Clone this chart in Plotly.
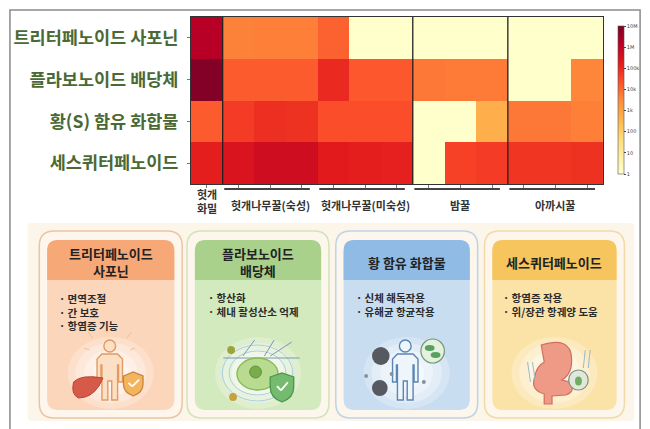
import plotly.graph_objects as go

# ---------------- data ----------------
compounds = ["트리터페노이드 사포닌", "플라보노이드 배당체", "황(S) 함유 화합물", "세스퀴터페노이드"]
samples = ["헛개 화밀",
           "숙성1", "숙성2", "숙성3",
           "미숙성1", "미숙성2", "미숙성3",
           "밤꿀1", "밤꿀2", "밤꿀3",
           "아까시1", "아까시2", "아까시3"]
# log10(peak area)
saponin = [6.2, 3.65, 3.7, 3.7, 4.1, 0, 0, 0, 0, 0, 0, 0, 0]
flavonoid = [6.95, 4.2, 4.2, 4.2, 5.0, 4.25, 4.25, 3.8, 3.75, 3.75, 0, 0, 3.6]
sulfur = [4.2, 4.7, 4.9, 4.85, 4.4, 4.4, 4.4, 0, 0, 2.7, 3.8, 3.8, 3.7]
sesqui = [5.2, 5.45, 5.7, 5.7, 5.25, 5.2, 5.15, 0, 4.6, 4.7, 4.8, 4.8, 4.85]
group_labels = ["헛개나무꿀(숙성)", "헛개나무꿀(미숙성)", "밤꿀", "아까시꿀"]
group_cols = [(1, 3), (4, 6), (7, 9), (10, 12)]
cb_vals = [0, 1, 2, 3, 4, 5, 6, 7]
cb_text = ["1", "10", "100", "1k", "10k", "100k", "1M", "10M"]

card_titles = [["트리터페노이드", "사포닌"], ["플라보노이드", "배당체"], ["황 함유 화합물"], ["세스퀴터페노이드"]]
card_bullets = [["면역조절", "간 보호", "항염증 기능"],
                ["항산화", "체내 활성산소 억제"],
                ["신체 해독작용", "유해균 항균작용"],
                ["항염증 작용", "위/장관 항궤양 도움"]]

# ---------------- helpers ----------------
W, H = 650, 429
FONT = "Noto Sans CJK KR"


def X(x):
    return x / W


def Y(y):
    return 1 - y / H


def P(x, y):
    return f"{X(x):.5f},{Y(y):.5f}"


def rrect(x0, y0, x1, y1, r, top_only=False):
    if top_only:
        return (f"M {P(x0, y1)} L {P(x0, y0 + r)} Q {P(x0, y0)} {P(x0 + r, y0)} "
                f"L {P(x1 - r, y0)} Q {P(x1, y0)} {P(x1, y0 + r)} L {P(x1, y1)} Z")
    return (f"M {P(x0 + r, y0)} L {P(x1 - r, y0)} Q {P(x1, y0)} {P(x1, y0 + r)} "
            f"L {P(x1, y1 - r)} Q {P(x1, y1)} {P(x1 - r, y1)} L {P(x0 + r, y1)} "
            f"Q {P(x0, y1)} {P(x0, y1 - r)} L {P(x0, y0 + r)} Q {P(x0, y0)} {P(x0 + r, y0)} Z")


def poly(pts):
    return "M " + " L ".join(P(a, b) for a, b in pts) + " Z"


shapes = []
annotations = []


def path(d, fill, line="rgba(0,0,0,0)", lw=0, layer="below", opacity=1):
    shapes.append(dict(type="path", path=d, xref="paper", yref="paper", fillcolor=fill,
                       line=dict(color=line, width=lw), layer=layer, opacity=opacity))


def circ(cx, cy, rx, ry, fill, line="rgba(0,0,0,0)", lw=0, layer="above", opacity=1):
    shapes.append(dict(type="circle", xref="paper", yref="paper", x0=X(cx - rx), x1=X(cx + rx),
                       y0=Y(cy + ry), y1=Y(cy - ry), fillcolor=fill,
                       line=dict(color=line, width=lw), layer=layer, opacity=opacity))


def seg(x0, y0, x1, y1, color, w=1.2):
    shapes.append(dict(type="line", xref="paper", yref="paper", x0=X(x0), x1=X(x1), y0=Y(y0), y1=Y(y1),
                       line=dict(color=color, width=w), layer="above"))


def person(cx, top, fill, line):
    circ(cx, top + 6, 6, 6, fill, line, 1.4)
    s = top + 14
    pts = [(cx - 8, s), (cx + 8, s), (cx + 13, s + 5), (cx + 13, s + 28), (cx + 9, s + 28), (cx + 9, s + 11),
           (cx + 8, s + 11), (cx + 8, s + 46), (cx + 2, s + 46), (cx + 2, s + 27), (cx - 2, s + 27),
           (cx - 2, s + 46), (cx - 8, s + 46), (cx - 8, s + 11), (cx - 9, s + 11), (cx - 9, s + 28),
           (cx - 13, s + 28), (cx - 13, s + 5)]
    path(poly(pts), fill, line, 1.4, layer="above")


def shield(x0, y0, w, h, fill, line):
    cx = x0 + w / 2
    d = (f"M {P(x0, y0 + 4)} L {P(cx, y0)} L {P(x0 + w, y0 + 4)} L {P(x0 + w, y0 + h * 0.5)} "
         f"Q {P(x0 + w, y0 + h * 0.85)} {P(cx, y0 + h)} Q {P(x0, y0 + h * 0.85)} {P(x0, y0 + h * 0.5)} Z")
    path(d, fill, line, 1.3, layer="above")
    seg(cx - 5, y0 + h * 0.45, cx - 1, y0 + h * 0.6, "white", 1.8)
    seg(cx - 1, y0 + h * 0.6, cx + 6, y0 + h * 0.32, "white", 1.8)


# ---------------- heatmap ----------------
z = [saponin, flavonoid, sulfur, sesqui]
ylorrd = ['#ffffcc', '#ffeda0', '#fed976', '#feb24c', '#fd8d3c', '#fc4e2a', '#e31a1c', '#bd0026', '#800026']
cscale = [[i / (len(ylorrd) - 1), c] for i, c in enumerate(ylorrd)]

fig = go.Figure()
fig.add_trace(go.Heatmap(
    z=z, x=list(range(len(samples))), y=list(range(len(compounds))),
    colorscale=cscale, zmin=0, zmax=7, hoverinfo="skip",
    colorbar=dict(x=X(613), xanchor="left", y=Y(8), yanchor="top", len=(176 - 8) / H,
                  lenmode="fraction", thickness=6, outlinewidth=0.6, outlinecolor="#555",
                  tickvals=cb_vals, ticktext=cb_text, ticks="outside", ticklen=2,
                  tickfont=dict(size=5, color="#444", family="DejaVu Sans"),
                  title=dict(text="Peak area (log10 scale)", side="right",
                             font=dict(size=5, color="#444", family="DejaVu Sans"))),
))

fig.update_xaxes(domain=[X(187), X(608)], range=[-0.5, 12.5], showticklabels=False,
                 tickvals=list(range(len(samples))), ticks="outside", ticklen=3, tickcolor="#777",
                 showline=True, mirror=True, linecolor="#333", linewidth=1, showgrid=False,
                 zeroline=False, fixedrange=True)
fig.update_yaxes(domain=[Y(176), Y(9)], range=[3.5, -0.5], tickvals=list(range(len(compounds))),
                 ticktext=compounds, ticks="outside", ticklen=3, tickcolor="#777",
                 tickfont=dict(size=17.5, color="#4a6934", family=FONT, weight=700),
                 ticklabelstandoff=5, showline=True, mirror=True, linecolor="#333",
                 linewidth=1, showgrid=False, zeroline=False, automargin=False)

# group separators
for xb in [0.5, 6.5, 9.5]:
    shapes.append(dict(type="line", xref="x", yref="y domain", x0=xb, x1=xb, y0=0, y1=1,
                       line=dict(color="#222", width=1.3), layer="above"))

# group underline + labels
for lab, (a, b) in zip(group_labels, group_cols):
    shapes.append(dict(type="line", xref="x", yref="paper", x0=a - 0.45, x1=b + 0.25,
                       y0=Y(181), y1=Y(181), line=dict(color="#444", width=2)))
    annotations.append(dict(text=f"<b>{lab}</b>", xref="x", yref="paper", x=(a + b) / 2,
                            y=Y(197), xanchor="center", yanchor="middle", showarrow=False,
                            font=dict(size=11, color="#333", family=FONT)))
annotations.append(dict(text="<b>헛개<br>화밀</b>", xref="x", yref="paper", x=0, y=Y(193),
                        xanchor="center", yanchor="middle", showarrow=False,
                        font=dict(size=11, color="#333", family=FONT)))

# ---------------- bottom panel ----------------
path(rrect(20, 215, 640, 413, 4), "#fbf5ea")

cards = [
    dict(x0=32, x1=178, border="#eec3a2", head="#f7a877", body="#fcd6bb", bx=50),
    dict(x0=183, x1=328, border="#d2e3ba", head="#a9d18b", body="#d3e9be", bx=202),
    dict(x0=335, x1=480, border="#bed3e8", head="#8fbbe5", body="#c9ddf1", bx=354),
    dict(x0=487, x1=630, border="#f1daa8", head="#f6c55e", body="#fbe3a8", bx=504),
]
BF = 10.5
for c, titles, bullets in zip(cards, card_titles, card_bullets):
    x0, x1 = c["x0"], c["x1"]
    path(rrect(x0, 223, x1, 410, 15), "#fcf6ec", c["border"], 1.5)
    ix0, ix1 = x0 + 8, x1 - 8
    path(rrect(ix0, 232, ix1, 402, 11), c["body"])
    path(rrect(ix0, 232, ix1, 272, 11, top_only=True), c["head"])
    cx = (ix0 + ix1) / 2
    annotations.append(dict(text="<br>".join(f"<b>{t}</b>" for t in titles), xref="paper", yref="paper",
                            x=X(cx), y=Y(254), xanchor="center", yanchor="middle", showarrow=False,
                            font=dict(size=13, color="#222", family=FONT)))
    n = len(bullets)
    annotations.append(dict(text="<br>".join(f"<b>· {bt}</b>" for bt in bullets), xref="paper", yref="paper",
                            x=X(c["bx"]), y=Y(290 + (n - 1) * BF * 1.3 / 2), xanchor="left", align="left",
                            yanchor="middle", showarrow=False,
                            font=dict(size=BF, color="#2b2b2b", family=FONT)))
    # soft glow
    for rx, ry, op in [(44, 36, 0.25), (36, 30, 0.3), (27, 23, 0.35), (18, 15, 0.4)]:
        circ(cx, 365, rx, ry, f"rgba(255,255,255,{op})", layer="below")

# ---- simple illustrations ----
# card 1: person, liver, shield, rays
for dx, dy0, dy1 in [(-22, 330, 324), (22, 330, 324), (-26, 342, 340), (26, 342, 340)]:
    seg(104 + dx * 0.8, dy0, 104 + dx, dy1, "#f0c090", 1)
person(104, 332, "#fbe0c6", "#e49a60")
path(f"M {P(67, 374)} Q {P(75, 366)} {P(97, 370)} L {P(93, 378)} Q {P(85, 390)} {P(72, 390)} "
     f"Q {P(64, 386)} {P(67, 374)} Z", "#d65a48", "#b84436", 1, layer="above")
shield(118, 364, 20, 24, "#f2b45c", "#c8843a")
# card 2: rings, cell, shield, arrows
circ(255, 365, 36, 28, "rgba(0,0,0,0)", "#a9cfe3", 1)
circ(255, 365, 29, 22, "rgba(0,0,0,0)", "#a9cfe3", 1)
seg(220, 350, 298, 350, "#7a9ab0", 1)
seg(240, 348, 252, 332, "#7a9ab0", 1)
seg(262, 348, 272, 332, "#7a9ab0", 1)
seg(268, 348, 290, 334, "#7a9ab0", 1)
circ(255, 366, 21, 16, "#b9db8f", "#86bb58", 1.4)
circ(253, 364, 6, 6, "#79ad4b", "#5e9238", 1)
circ(228, 342, 4, 4, "#9aa53a")
circ(230, 389, 4, 4, "#c8a03c")
shield(268, 365, 24, 29, "#74bb70", "#4b944b")
# card 3: person + germs
person(406, 332, "#eef5fb", "#5a86b3")
circ(381, 348, 9, 9, "#565a60")
circ(380, 380, 8, 8, "#565a60")
circ(366, 368, 2, 2, "#8a8f96")
circ(392, 366, 2, 2, "#8a8f96")
circ(425, 374, 2, 2, "#8a8f96")
circ(434, 343, 12, 12, "#e4f1de", "#6f9a72", 1.2)
circ(431, 340, 5, 3, "#58a060")
circ(437, 347, 5, 3, "#58a060")
# card 4: stomach / intestine + drop + waves
path(f"M {P(545, 337)} Q {P(575, 328)} {P(576, 350)} Q {P(577, 366)} {P(566, 372)} L {P(575, 374)} "
     f"Q {P(580, 384)} {P(570, 387)} L {P(556, 388)} L {P(556, 396)} L {P(548, 396)} L {P(548, 386)} "
     f"Q {P(534, 382)} {P(538, 370)} Q {P(540, 358)} {P(548, 354)} Z",
     "#ee9a86", "#cf6f60", 1.2, layer="above")
circ(583, 372, 10, 10, "#dfe8d9", "#7f8f86", 1.2)
circ(583, 373, 3.5, 4.5, "#6fae62")
for xx in [531, 536]:
    seg(xx, 354, xx + 3, 374, "#9bb8c8", 1)
for xx in [590, 595]:
    seg(xx, 342, xx - 2, 360, "#9bb8c8", 1)

# outer frame
shapes.append(dict(type="rect", xref="paper", yref="paper", x0=X(2), x1=X(646), y0=Y(423), y1=Y(2),
                   line=dict(color="#8a8a8a", width=1.5), fillcolor="rgba(0,0,0,0)", layer="above"))

fig.update_layout(width=W, height=H, margin=dict(l=0, r=0, t=0, b=0),
                  paper_bgcolor="white", plot_bgcolor="white",
                  shapes=shapes, annotations=annotations, showlegend=False,
                  font=dict(family=FONT))
fig.write_html("out.html")
